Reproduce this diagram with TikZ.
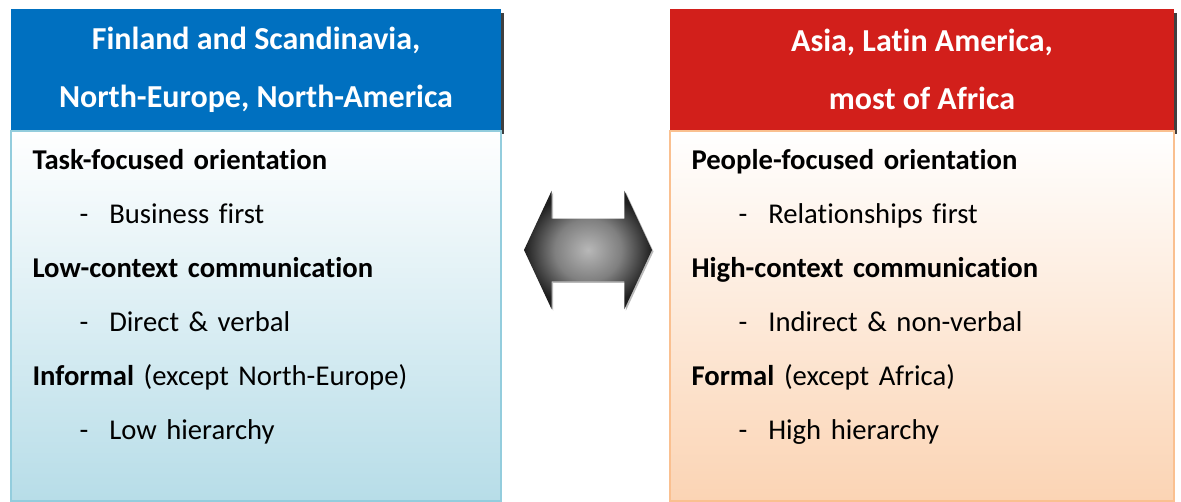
\documentclass[tikz,border=0pt]{standalone}
\usepackage{fontspec}
\setmainfont{Carlito}[Ligatures=CommonOff]
\usetikzlibrary{positioning, shapes.arrows, shadows}

\definecolor{headblue}{HTML}{0070C0}
\definecolor{headred}{HTML}{D21F1B}
\definecolor{edgeblue}{HTML}{93CDDD}
\definecolor{fillblue}{HTML}{B7DDE8}
\definecolor{edgeorange}{HTML}{FAC090}
\definecolor{fillorange}{HTML}{FBD4B4}

\newlength{\pxu}
\setlength{\pxu}{0.75pt}
\newcommand{\subpoint}[1]{\hspace*{47\pxu}-\hspace{21\pxu}#1}
\pgfdeclareradialshading{swapshade}{\pgfpointorigin}{color(0bp)=(black!28); color(13bp)=(black!50); color(25bp)=(black!88); color(50bp)=(black!88)}

\begin{document}
\begin{tikzpicture}[
      x=0.75pt, y=-0.75pt,
      head/.style={rectangle, inner sep=0, minimum height=121\pxu, text=white, align=center,
        font=\fontsize{24}{43.5}\selectfont\bfseries,
        drop shadow={shadow xshift=2.5\pxu, shadow yshift=-4\pxu, fill=black!75, opacity=1}},
      panel/.style={rectangle, draw, line width=1.5\pxu, inner sep=0, minimum height=370\pxu, top color=white},
      paneltext/.style={inner sep=0, text width=470\pxu, align=left, font=\fontsize{21.5}{40.5}\selectfont},
      twoway/.style={double arrow, double arrow head extend=28\pxu, double arrow tip angle=130,
        minimum height=128\pxu, minimum width=118\pxu, inner xsep=0, inner ysep=31\pxu,
        shading=swapshade,
        drop shadow={shadow xshift=1.5\pxu, shadow yshift=-1.5\pxu, fill=black!45, opacity=.6}}
    ]

    \useasboundingbox (0,0) rectangle (1181,502);

    % West side
    \node[head, fill=headblue, minimum width=490\pxu] (westhead) at (256,69.5)
      {Finland and Scandinavia,\\North-Europe, North-America};
    \node[panel, draw=edgeblue, bottom color=fillblue, minimum width=490\pxu, below=0pt of westhead] (westpanel) {};
    \node[paneltext, anchor=north west] (westlist) at ([xshift=22\pxu, yshift=-19\pxu]westpanel.north west) {%
      \textbf{Task-focused orientation}\\
      \subpoint{Business first}\\
      \textbf{Low-context communication}\\
      \subpoint{Direct \& verbal}\\
      \textbf{Informal} (except North-Europe)\\
      \subpoint{Low hierarchy}};

    % East side
    \node[head, fill=headred, minimum width=504\pxu] (easthead) at (922,69.5)
      {Asia, Latin America,\\most of Africa};
    \node[panel, draw=edgeorange, bottom color=fillorange, minimum width=504\pxu, below=0pt of easthead] (eastpanel) {};
    \node[paneltext, anchor=north west] (eastlist) at ([xshift=22\pxu, yshift=-19\pxu]eastpanel.north west) {%
      \textbf{People-focused orientation}\\
      \subpoint{Relationships first}\\
      \textbf{High-context communication}\\
      \subpoint{Indirect \& non-verbal}\\
      \textbf{Formal} (except Africa)\\
      \subpoint{High hierarchy}};

    % Two-way arrow
    \node[twoway] (swap) at (588,250) {};

\end{tikzpicture}
\end{document}
